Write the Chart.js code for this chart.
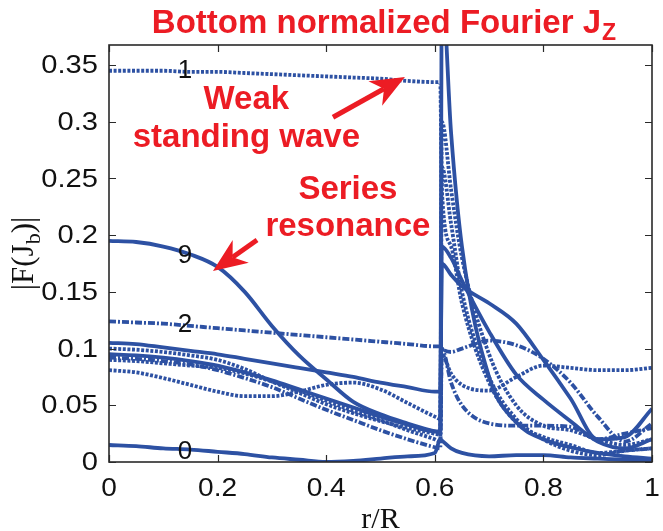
<!DOCTYPE html>
<html><head><meta charset="utf-8">
<script src="https://cdn.jsdelivr.net/npm/chart.js@4"></script>
<style>html,body{margin:0;padding:0;background:#fff}</style>
</head><body>
<canvas id="c" width="663" height="531"></canvas>
<script>
// radial positions r/R
const r = [0,0.05,0.1,0.15,0.2,0.25,0.3,0.35,0.4,0.45,0.5,0.55,0.6,0.61,0.613,0.63,0.65,0.7,0.75,0.8,0.85,0.9,0.95,1];
// |F(Jb)| per Fourier mode
const mode0 = [0.015,0.014,0.012,0.011,0.009,0.007,0.004,0.002,0.0,0.001,0.003,0.005,0.008,0.020,0.019,0.012,0.008,0.005,0.006,0.006,0.004,0.003,0.002,0.001];
const mode1 = [0.345,0.345,0.345,0.344,0.344,0.343,0.342,0.341,0.340,0.339,0.338,0.336,0.335,0.335,0.24,0.19,0.14,0.07,0.035,0.022,0.015,0.008,0.01,0.012];
const mode2 = [0.124,0.123,0.122,0.12,0.118,0.116,0.114,0.112,0.11,0.108,0.106,0.104,0.102,0.102,0.1,0.097,0.1,0.107,0.103,0.091,0.07,0.04,0.018,0.034];
const mode3 = [0.105,0.104,0.101,0.098,0.095,0.091,0.087,0.083,0.079,0.075,0.07,0.066,0.062,0.062,0.175,0.165,0.155,0.14,0.122,0.09,0.056,0.02,0.022,0.047];
const mode4 = [0.100,0.099,0.097,0.094,0.09,0.082,0.071,0.061,0.051,0.043,0.036,0.03,0.025,0.024,0.26,0.21,0.15,0.075,0.038,0.02,0.01,0.006,0.01,0.012];
const mode5 = [0.095,0.094,0.092,0.089,0.085,0.079,0.072,0.064,0.056,0.048,0.04,0.033,0.027,0.027,0.19,0.18,0.16,0.115,0.077,0.055,0.036,0.018,0.012,0.02];
const mode6 = [0.09,0.089,0.087,0.085,0.083,0.078,0.071,0.063,0.054,0.045,0.037,0.028,0.02,0.018,0.3,0.24,0.18,0.095,0.05,0.032,0.028,0.02,0.015,0.02];
const mode7 = [0.081,0.079,0.074,0.068,0.062,0.058,0.058,0.062,0.068,0.07,0.064,0.052,0.04,0.038,0.095,0.078,0.068,0.063,0.075,0.085,0.083,0.081,0.081,0.083];
const mode8 = [0.092,0.091,0.089,0.086,0.081,0.074,0.066,0.056,0.046,0.037,0.028,0.02,0.013,0.012,0.1,0.07,0.05,0.034,0.032,0.032,0.031,0.02,0.025,0.03];
const mode9 = [0.195,0.194,0.19,0.183,0.172,0.15,0.12,0.094,0.073,0.053,0.042,0.034,0.027,0.026,0.42,0.29,0.19,0.075,0.035,0.02,0.013,0.008,0.005,0.003];

const xTicks = [0,0.2,0.4,0.6,0.8,1];
const xTickLabels = ['0','0.2','0.4','0.6','0.8','1'];
const yTicks = [0,0.05,0.1,0.15,0.2,0.25,0.3,0.35];
const yTickLabels = ['0','0.05','0.1','0.15','0.2','0.25','0.3','0.35'];

const modeLabelText = ['1','9','2','0'];
const modeLabelX = [0.14,0.14,0.14,0.14];
const modeLabelY = [0.345,0.182,0.121,0.009];

const noteLines = [['Weak','standing wave'],['Series','resonance']];
const noteX = [0.253,0.44];
const noteY = [[0.311,0.278],[0.232,0.199]];
const arrowFrom = [[0.4125,0.304],[0.2726,0.1958]];
const arrowTo = [[0.545,0.3395],[0.1915,0.1684]];

const BLUE = '#2d51a3';
const RED = '#ec1c24';
const SOLID = [], DOT = [3,1.6], DASHDOT = [7,2,2,2];
const series = [
  [mode0, SOLID],[mode1, DOT],[mode2, DASHDOT],[mode3, SOLID],[mode4, DOT],
  [mode5, SOLID],[mode6, DOT],[mode7, DOT],[mode8, DASHDOT],[mode9, SOLID]
];

const datasets = series.map((s,i)=>({
  label: 'mode ' + i,
  data: r.map((x,k)=>({x:x,y:s[0][k]})),
  showLine: true,
  borderColor: BLUE,
  borderWidth: 3.8,
  borderDash: s[1],
  pointRadius: 0,
  fill: false,
  cubicInterpolationMode: 'monotone'
}));

function arrow(ctx, x0,y0,x1,y1){
  const ang = Math.atan2(y1-y0,x1-x0);
  const L = 34, W = 14, back = 10;
  ctx.save();
  ctx.strokeStyle = RED; ctx.fillStyle = RED; ctx.lineWidth = 5;
  ctx.beginPath();
  ctx.moveTo(x0,y0);
  ctx.lineTo(x1 - Math.cos(ang)*(L-back), y1 - Math.sin(ang)*(L-back));
  ctx.stroke();
  ctx.translate(x1,y1); ctx.rotate(ang);
  ctx.beginPath();
  ctx.moveTo(0,0);
  ctx.lineTo(-L, -W);
  ctx.lineTo(-L+back, 0);
  ctx.lineTo(-L, W);
  ctx.closePath();
  ctx.fill();
  ctx.restore();
}

const deco = {
  id: 'deco',
  afterDatasetsDraw(chart){
    const ctx = chart.ctx, a = chart.chartArea;
    const xs = chart.scales.x, ys = chart.scales.y;
    ctx.save();
    // mode labels
    ctx.fillStyle = '#111';
    ctx.font = '26px "Liberation Sans", Arial, sans-serif';
    ctx.textAlign = 'center'; ctx.textBaseline = 'middle';
    modeLabelText.forEach((t,i)=>{
      ctx.fillText(t, xs.getPixelForValue(modeLabelX[i]), ys.getPixelForValue(modeLabelY[i]));
    });
    // frame
    ctx.strokeStyle = '#2a2a2a'; ctx.lineWidth = 1.6;
    ctx.strokeRect(a.left, a.top, a.right-a.left, a.bottom-a.top);
    // ticks inward
    const tl = 7;
    ctx.beginPath();
    xTicks.forEach(v=>{
      const px = Math.round(xs.getPixelForValue(v))+0.5;
      ctx.moveTo(px,a.bottom); ctx.lineTo(px,a.bottom-tl);
      ctx.moveTo(px,a.top); ctx.lineTo(px,a.top+tl);
    });
    yTicks.forEach(v=>{
      const py = Math.round(ys.getPixelForValue(v))+0.5;
      ctx.moveTo(a.left,py); ctx.lineTo(a.left+tl,py);
      ctx.moveTo(a.right,py); ctx.lineTo(a.right-tl,py);
    });
    ctx.lineWidth = 1.2; ctx.stroke();
    // tick labels
    ctx.fillStyle = '#111';
    ctx.font = '26px "Liberation Sans", Arial, sans-serif';
    ctx.textAlign = 'center'; ctx.textBaseline = 'top';
    xTicks.forEach((v,i)=>{
      const px = xs.getPixelForValue(v);
      ctx.save(); ctx.translate(px, a.bottom+14); ctx.scale(1.08,1);
      ctx.fillText(xTickLabels[i], 0, 0); ctx.restore();
    });
    ctx.textAlign = 'right'; ctx.textBaseline = 'middle';
    yTicks.forEach((v,i)=>{
      const py = ys.getPixelForValue(v);
      ctx.save(); ctx.translate(a.left-11, py+1); ctx.scale(1.12,1);
      ctx.fillText(yTickLabels[i], 0, 0); ctx.restore();
    });
    // x title
    ctx.font = '30px "Liberation Serif", "Times New Roman", serif';
    ctx.textAlign = 'center'; ctx.textBaseline = 'alphabetic';
    ctx.fillText('r/R', (a.left+a.right)/2, 528);
    // y title
    ctx.save();
    ctx.translate(33, (a.top+a.bottom)/2); ctx.rotate(-Math.PI/2);
    const p1 = '|F(J', p2 = 'b', p3 = ')|';
    const big = '31px "Liberation Serif", "Times New Roman", serif';
    const small = '22px "Liberation Serif", "Times New Roman", serif';
    ctx.font = big;
    const w1 = ctx.measureText(p1).width, w3 = ctx.measureText(p3).width;
    ctx.font = small;
    const w2 = ctx.measureText(p2).width;
    let x0 = -(w1+w2+w3)/2;
    ctx.textAlign = 'left';
    ctx.font = big; ctx.fillText(p1, x0, 0);
    ctx.font = small; ctx.fillText(p2, x0+w1, 7);
    ctx.font = big; ctx.fillText(p3, x0+w1+w2, 0);
    ctx.restore();
    // title
    ctx.fillStyle = RED;
    const t1 = 'Bottom normalized Fourier J', t2 = 'Z';
    const tf1 = 'bold 33px "Liberation Sans", Arial, sans-serif';
    const tf2 = 'bold 23px "Liberation Sans", Arial, sans-serif';
    ctx.font = tf1;
    const tw1 = ctx.measureText(t1).width;
    ctx.font = tf2;
    const tw2 = ctx.measureText(t2).width;
    let tx = (a.left+a.right)/2 - (tw1+tw2)/2 + 3;
    ctx.textAlign = 'left';
    ctx.font = tf1; ctx.fillText(t1, tx, 33);
    ctx.font = tf2; ctx.fillText(t2, tx+tw1+1, 40);
    // notes
    ctx.font = 'bold 33px "Liberation Sans", Arial, sans-serif';
    ctx.textAlign = 'center';
    noteLines.forEach((lines,i)=>{
      lines.forEach((ln,j)=>{
        ctx.fillText(ln, xs.getPixelForValue(noteX[i]), ys.getPixelForValue(noteY[i][j]));
      });
    });
    // arrows
    for (let i=0;i<arrowFrom.length;i++){
      arrow(ctx, xs.getPixelForValue(arrowFrom[i][0]), ys.getPixelForValue(arrowFrom[i][1]),
                 xs.getPixelForValue(arrowTo[i][0]), ys.getPixelForValue(arrowTo[i][1]));
    }
    ctx.restore();
  }
};

new Chart(document.getElementById('c'), {
  type: 'scatter',
  data: { datasets },
  options: {
    responsive: false, animation: false, devicePixelRatio: 1,
    layout: { padding: { left: 109, right: 11, top: 45, bottom: 69 } },
    plugins: { legend: { display: false }, tooltip: { enabled: false }, title: { display: false } },
    scales: {
      x: { type: 'linear', min: 0, max: 1, display: false },
      y: { type: 'linear', min: 0, max: 0.3677, display: false }
    }
  },
  plugins: [deco]
});
</script>
</body></html>
